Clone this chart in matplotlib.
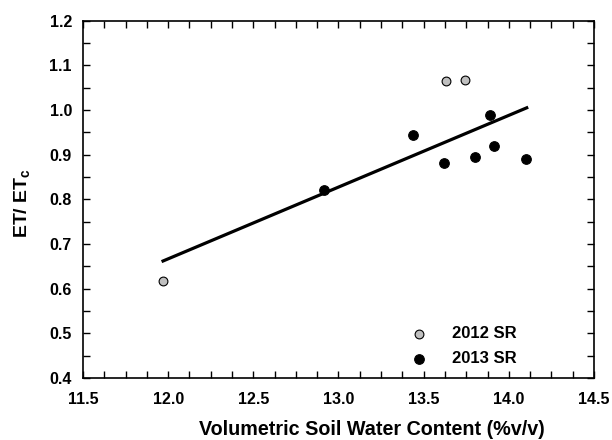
import numpy as np
from matplotlib import pyplot as plt
from matplotlib.ticker import MultipleLocator

plt.rcParams.update({'font.family': 'Liberation Sans',
                     'font.weight': 'bold',
                     'axes.labelweight': 'bold',
                     'mathtext.fontset': 'custom',
                     'mathtext.rm': 'Liberation Sans:bold',
                     'mathtext.bf': 'Liberation Sans:bold'})

#---- data

x_2012 = [11.97, 13.63, 13.74]
y_2012 = [0.618, 1.064, 1.068]

x_2013 = [12.915, 13.44, 13.62, 13.80, 13.892, 13.912, 14.10]
y_2013 = [0.822, 0.945, 0.882, 0.894, 0.988, 0.919, 0.890]

# regression line end points
fit_x = [11.97, 14.105]
fit_y = [0.662, 1.005]

#---- figure

fig = plt.figure(figsize=(6.12, 4.4), dpi=100)
ax = fig.add_axes([0.1356, 0.1409, 0.835, 0.812])

ax.plot(fit_x, fit_y, '-k', lw=2.3, zorder=2)
ax.scatter(x_2012, y_2012, s=40, c='#bfbfbf', edgecolors='k', linewidths=0.8,
           zorder=3, label='2012 SR')
ax.scatter(x_2013, y_2013, s=48, c='k', edgecolors='k', linewidths=0.8,
           zorder=3, label='2013 SR')

ax.set_xlim(11.5, 14.5)
ax.set_ylim(0.4, 1.2)
ax.xaxis.set_major_locator(MultipleLocator(0.5))
ax.xaxis.set_minor_locator(MultipleLocator(0.125))
ax.yaxis.set_major_locator(MultipleLocator(0.1))
ax.yaxis.set_minor_locator(MultipleLocator(0.05))
ax.xaxis.set_major_formatter('{x:.1f}')
ax.yaxis.set_major_formatter('{x:.1f}')

ax.tick_params(which='both', direction='in', top=True, right=True,
               width=1.0, labelsize=11.5)
ax.tick_params(which='major', length=5)
ax.tick_params(which='minor', length=5)
ax.tick_params(axis='x', which='major', pad=10)
ax.tick_params(axis='y', which='major', pad=8)
for s in ax.spines.values():
    s.set_linewidth(1.2)

ax.set_xlabel('Volumetric Soil Water Content (%v/v)', fontsize=14.2)
ax.set_ylabel(r'ET/ ET$_\mathregular{c}$', fontsize=14)
ax.xaxis.set_label_coords(0.565, -0.118)
ax.yaxis.set_label_coords(-0.098, 0.491)

ax.legend(loc='lower right', frameon=False, fontsize=12, handletextpad=1.0,
          labelspacing=0.6, borderaxespad=0.3, bbox_to_anchor=(0.872, 0.0))

plt.savefig('out.png', dpi=100)
